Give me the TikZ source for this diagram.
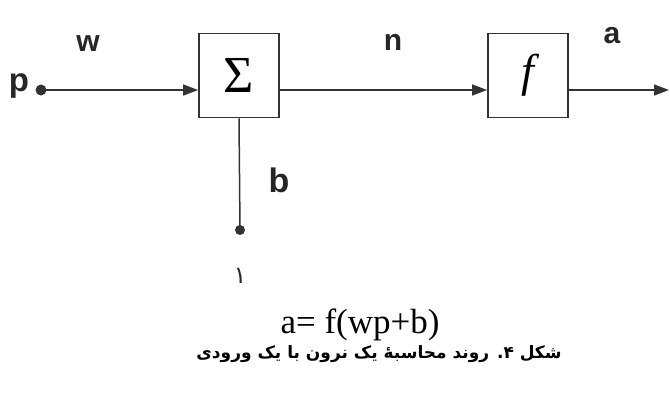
\documentclass[tikz,border=0pt]{standalone}
\usepackage{fontspec}
\setmainfont{Liberation Serif}
\newfontfamily\labelfont{Liberation Sans}
\newfontfamily\arabicfont[Script=Arabic]{DejaVu Sans}
\TeXXeTstate=1
\usetikzlibrary{arrows.meta}

\begin{document}
\begin{tikzpicture}[x=1pt,y=-1pt,
  blockbox/.style={draw=black!80,line width=1.8pt,minimum width=80pt,minimum height=84pt,inner sep=0pt},
  wire/.style={draw=black!80,line width=1.5pt},
  sig/.style={wire,-{Triangle[length=15pt,width=11pt]}},
  lbl/.style={inner sep=0pt,text=black!85,font=\labelfont\bfseries\fontsize{30}{32}\selectfont}]
\path[use as bounding box] (0,0) rectangle (670,392);
% blocks
\node[blockbox,font=\fontsize{52}{56}\selectfont] (sum) at (239,75.5) {Σ};
\node[blockbox,font=\itshape\fontsize{46}{50}\selectfont] (act) at (528,75.5) {f};
% input and bias
\fill[black!80] (41,90) circle (5.5) coordinate (pdot);
\fill[black!80] (240,230) circle (5) coordinate (bdot);
\coordinate (aout) at (669,90);
\draw[sig] (pdot) -- (sum.west |- pdot);
\draw[sig] (sum.east |- pdot) -- (act.west |- pdot);
\draw[sig] (act.east |- pdot) -- (aout);
\draw[wire] (sum.south) -- (bdot);
% labels
\node[lbl,font=\labelfont\bfseries\fontsize{33}{35}\selectfont] (plbl) at (19,86) {p};
\node[lbl] (wlbl) at (88,44) {w};
\node[lbl] (nlbl) at (393,42) {n};
\node[lbl] (albl) at (612,36) {a};
\node[lbl,font=\labelfont\bfseries\fontsize{34}{36}\selectfont] (blbl) at (279,180) {b};
\node[inner sep=0pt,text=black!85,font=\arabicfont\fontsize{24}{26}\selectfont] (one) at (240,276) {۱};
% formula and caption
\node[inner sep=0pt,font=\fontsize{35}{38}\selectfont] (eqn) at (360,325) {a= f(wp+b)};
\node[inner sep=0pt,font=\arabicfont\bfseries\fontsize{17}{20}\selectfont] (cap) at (379,354)
  {\beginR شکل ۴. روند محاسبهٔ یک نرون با یک ورودی\endR};
\end{tikzpicture}
\end{document}
